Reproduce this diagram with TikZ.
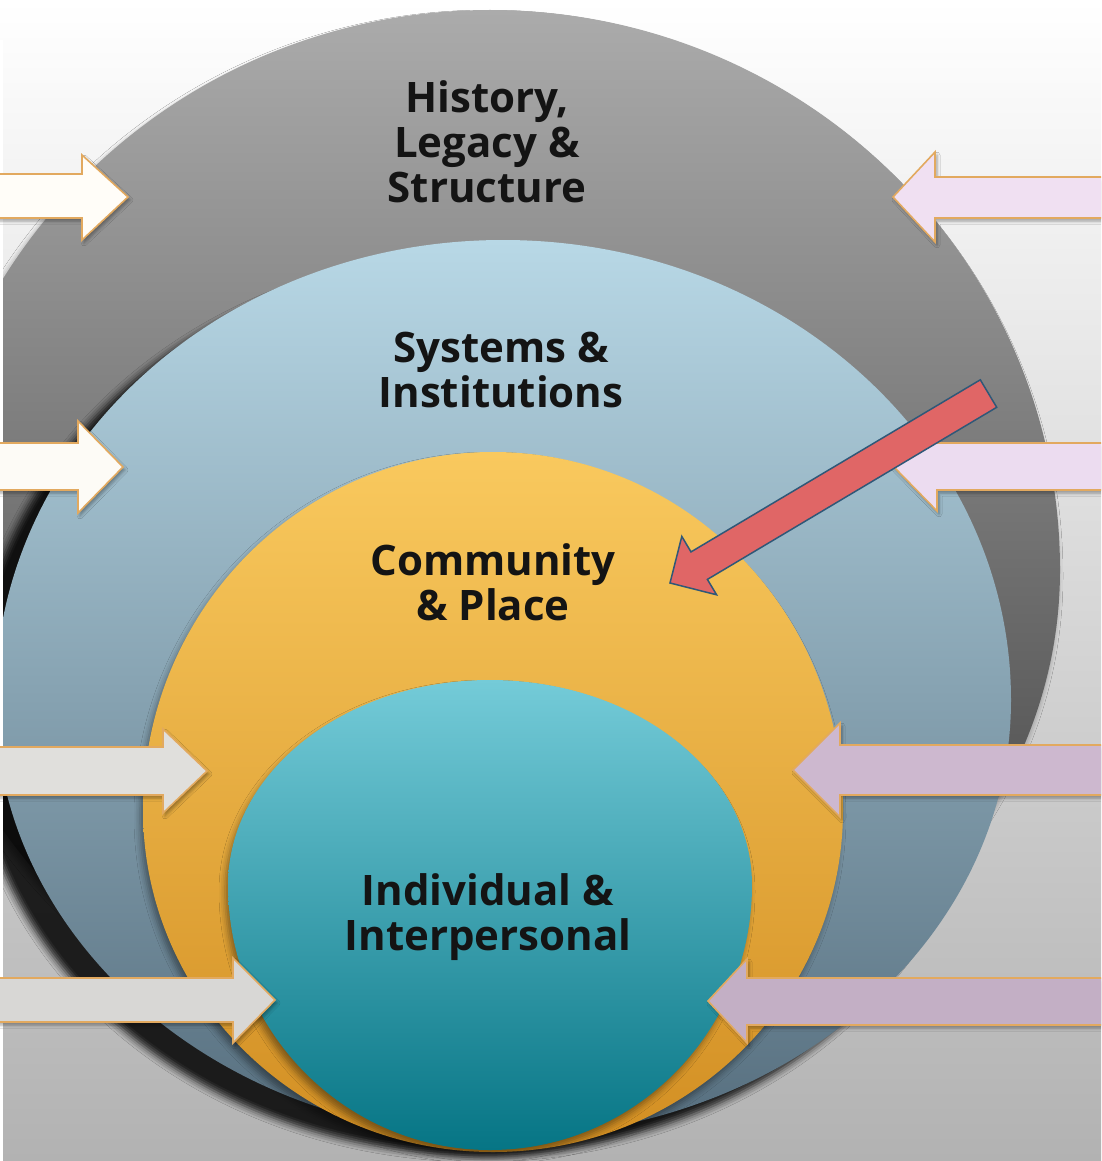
\documentclass[tikz,border=0pt]{standalone}
\usepackage{fontspec}
\setmainfont{Open Sans}
\usetikzlibrary{shadows,shadows.blur}
\definecolor{bgmid}{HTML}{F2F2F2}
\definecolor{bgbot}{HTML}{B2B2B2}
\definecolor{graytop}{HTML}{ABABAB}
\definecolor{graybot}{HTML}{383838}
\definecolor{bluetop}{HTML}{B8D8E6}
\definecolor{bluebot}{HTML}{566E7E}
\definecolor{orgtop}{HTML}{F9C95E}
\definecolor{orgbot}{HTML}{D28E22}
\definecolor{tealtop}{HTML}{74CBD8}
\definecolor{tealbot}{HTML}{067585}
\definecolor{arrowedge}{HTML}{E2A95F}
\definecolor{lwA}{HTML}{FFFDF8}
\definecolor{lwB}{HTML}{FDFBF6}
\definecolor{lwC}{HTML}{E0DFDC}
\definecolor{lwD}{HTML}{D8D7D5}
\definecolor{rlA}{HTML}{F0E0F2}
\definecolor{rlB}{HTML}{ECDCF0}
\definecolor{rlC}{HTML}{CDB8CF}
\definecolor{rlD}{HTML}{C3AFC5}
\definecolor{redfill}{HTML}{E06666}
\definecolor{redline}{HTML}{2F5878}
\begin{document}
\begin{tikzpicture}[x=1pt,y=-1pt,
  lbl/.style={font=\fontsize{42}{45}\selectfont\bfseries, text=black!92, align=center, inner sep=0pt},
  blk/.style={line width=1.6pt, draw=arrowedge, line join=miter,
    blur shadow={shadow xshift=2pt, shadow yshift=-3pt, shadow blur radius=3pt, shadow opacity=35}},
  layer/.style={blur shadow={shadow xshift=-3pt, shadow yshift=-6pt, shadow blur radius=6pt, shadow opacity=40}},
  bluelayer/.style={blur shadow={shadow xshift=-24pt, shadow yshift=-18pt, shadow blur radius=7pt, shadow opacity=85}}
]
\useasboundingbox (0,0) rectangle (1101,1161);
\clip (0,0) rectangle (1101,1161);
% background
\shade[top color=white, middle color=bgmid, bottom color=bgbot] (0,0) rectangle (1101,1161);
% layers
\path[layer, top color=graytop, bottom color=graybot]
  (-80,570) arc[start angle=180,end angle=0,x radius=570pt,y radius=560pt]
  arc[start angle=0,end angle=-180,x radius=570pt,y radius=500pt] -- cycle;
\path[bluelayer, top color=bluetop, bottom color=bluebot]
  (-5,700) arc[start angle=180,end angle=0,x radius=508pt,y radius=460pt]
  arc[start angle=0,end angle=-180,x radius=508pt,y radius=437pt] -- cycle;
\path[layer, top color=orgtop, bottom color=orgbot]
  (143,810) arc[start angle=180,end angle=0,x radius=350pt,y radius=358pt]
  arc[start angle=0,end angle=-180,x radius=350pt,y radius=342pt] -- cycle;
\path[layer, top color=tealtop, bottom color=tealbot]
  (228,885) arc[start angle=180,end angle=0,x radius=262pt,y radius=205pt]
  arc[start angle=0,end angle=-180,x radius=262pt,y radius=265pt] -- cycle;
% left edge strip
\fill[white] (0,40) rectangle (3,1161);
% left arrows
\filldraw[blk, fill=lwA] (-5,174) -- (82,174) -- (82,155) -- (128,197) -- (82,240) -- (82,218) -- (-5,218) -- cycle;
\filldraw[blk, fill=lwB] (-5,443) -- (78,443) -- (78,421) -- (123,467) -- (78,513) -- (78,490) -- (-5,490) -- cycle;
\filldraw[blk, fill=lwC] (-5,747) -- (163,747) -- (163,729) -- (207,771) -- (163,813) -- (163,795) -- (-5,795) -- cycle;
\filldraw[blk, fill=lwD] (-5,978) -- (233,978) -- (233,958) -- (275,1000) -- (233,1043) -- (233,1022) -- (-5,1022) -- cycle;
% right arrows
\filldraw[blk, fill=rlA] (1106,177) -- (935,177) -- (935,152) -- (893,197) -- (935,242) -- (935,218) -- (1106,218) -- cycle;
\filldraw[blk, fill=rlB] (1106,443) -- (937,443) -- (937,421) -- (893,466) -- (937,511) -- (937,490) -- (1106,490) -- cycle;
\filldraw[blk, fill=rlC] (1106,745) -- (840,745) -- (840,723) -- (793,770) -- (840,817) -- (840,795) -- (1106,795) -- cycle;
\filldraw[blk, fill=rlD] (1106,978) -- (747,978) -- (747,959) -- (708,1001) -- (747,1043) -- (747,1025) -- (1106,1025) -- cycle;
% labels
\node[lbl] (history) at (487,142) {History,\\Legacy \&\\Structure};
\node[lbl] (systems) at (501,370) {Systems \&\\Institutions};
\node[lbl] (community) at (493,582) {Community\\\& Place};
\node[lbl] (individual) at (488,917) {Individual \&\\Interpersonal};
% red arrow
\coordinate (ta) at (980.3,379.8);
\coordinate (sa) at (691.0,551.9);
\coordinate (ba) at (681.8,536.4);
\coordinate (tip) at (670,583);
\coordinate (bb) at (716.6,594.8);
\coordinate (sb) at (707.4,579.4);
\coordinate (tb) at (996.7,407.3);
\filldraw[fill=redfill, draw=redline, line width=1.5pt, line join=miter]
  (ta) -- (sa) -- (ba) -- (tip) -- (bb) -- (sb) -- (tb) -- cycle;
\end{tikzpicture}
\end{document}
